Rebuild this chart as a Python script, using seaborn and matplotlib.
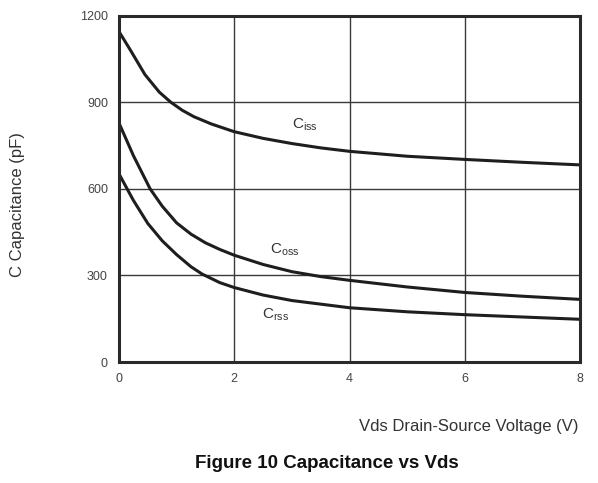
import matplotlib
matplotlib.use("Agg")
import matplotlib.pyplot as plt
import seaborn as sns
import pandas as pd

sns.set_theme(style="white")
plt.rcParams['font.family'] = ['Liberation Sans', 'DejaVu Sans']
plt.rcParams['mathtext.fontset'] = 'custom'
plt.rcParams['mathtext.rm'] = 'Liberation Sans'
plt.rcParams['mathtext.it'] = 'Liberation Sans'

ciss_v = [0, 0.2, 0.45, 0.7, 0.9, 1.1, 1.3, 1.6, 2, 2.5, 3, 3.5, 4, 5, 6, 7, 8]
ciss_c = [1145, 1080, 996, 935, 900, 872, 850, 825, 798, 775, 757, 742, 730, 713, 702, 692, 683]
coss_v = [0, 0.25, 0.54, 0.75, 1, 1.25, 1.5, 1.75, 2, 2.5, 3, 3.5, 4, 5, 6, 7, 8]
coss_c = [828, 715, 600, 540, 482, 443, 413, 390, 370, 338, 313, 296, 283, 260, 241, 228, 217]
crss_v = [0, 0.1, 0.25, 0.5, 0.75, 1, 1.25, 1.44, 1.75, 2, 2.5, 3, 4, 5, 6, 7, 8]
crss_c = [652, 615, 560, 480, 420, 372, 330, 305, 275, 258, 232, 213, 188, 174, 164, 156, 148]

x_ticks = [0, 2, 4, 6, 8]
y_ticks = [0, 300, 600, 900, 1200]

df = pd.concat([
    pd.DataFrame({"V": ciss_v, "C": ciss_c, "s": "Ciss"}),
    pd.DataFrame({"V": coss_v, "C": coss_c, "s": "Coss"}),
    pd.DataFrame({"V": crss_v, "C": crss_c, "s": "Crss"}),
])

fig = plt.figure(figsize=(5.98, 4.83), dpi=100)
ax = fig.add_axes([0.199, 0.2505, 0.771, 0.717])

sns.lineplot(data=df, x="V", y="C", units="s", estimator=None, color="#1e1e1e",
             linewidth=2.2, ax=ax, sort=False)
for ln in ax.get_lines():
    ln.set_solid_joinstyle("round")

ax.set_xlim(0, 8)
ax.set_ylim(0, 1200)
ax.set_xticks(x_ticks)
ax.set_yticks(y_ticks)
ax.grid(True, color="#3a3a3a", linewidth=1.0)
ax.set_axisbelow(True)
for sp in ax.spines.values():
    sp.set_color("#2a2a2a")
    sp.set_linewidth(2.2)
ax.tick_params(axis="both", length=0, labelsize=9, colors="#444444", pad=8)
ax.set_xlabel("")
ax.set_ylabel("")

ax.text(3.0, 822, r"C$_{\mathrm{iss}}$", fontsize=11, color="#333333", va="center")
ax.text(2.62, 388, r"C$_{\mathrm{oss}}$", fontsize=11, color="#333333", va="center")
ax.text(2.48, 163, r"C$_{\mathrm{rss}}$", fontsize=11, color="#333333", va="center")

fig.text(0.967, 1 - 427 / 483, "Vds Drain-Source Voltage (V)", ha="right", va="center",
         fontsize=12, color="#333333")
fig.text(0.547, 1 - 463 / 483, "Figure 10 Capacitance vs Vds", ha="center", va="center",
         fontsize=13.5, fontweight="bold", color="#111111")
fig.text(0.03, 1 - 205 / 483, "C Capacitance (pF)", rotation=90, ha="center", va="center",
         fontsize=12, color="#333333")

fig.savefig("out.png", dpi=100)
